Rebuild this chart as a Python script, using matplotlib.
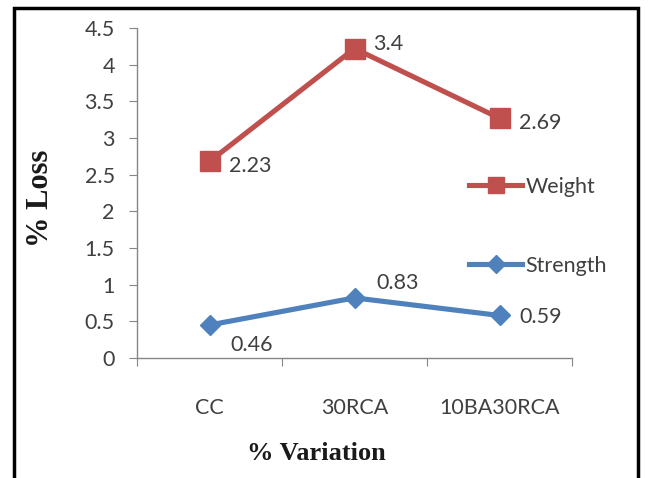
import matplotlib
matplotlib.use("Agg")
import matplotlib.pyplot as plt
from matplotlib.patches import Rectangle
from matplotlib.lines import Line2D

categories = ["CC", "30RCA", "10BA30RCA"]
weight_pos = [2.68, 4.22, 3.27]
weight_labels = ["2.23", "3.4", "2.69"]
strength_pos = [0.45, 0.82, 0.58]
strength_labels = ["0.46", "0.83", "0.59"]
yticks = [0, 0.5, 1, 1.5, 2, 2.5, 3, 3.5, 4, 4.5]
ytick_labels = ["0", "0.5", "1", "1.5", "2", "2.5", "3", "3.5", "4", "4.5"]

RED = "#C0504D"
BLUE = "#4F81BD"
TXT = "#404040"
SANS = ["Lato", "DejaVu Sans"]
SERIF = ["Liberation Serif", "DejaVu Serif"]
FS = 15.5

fig = plt.figure(figsize=(6.48, 4.78), dpi=100)
ax = fig.add_axes([137/648, 1-358/478, (572-137)/648, (358-28)/478])

x = [1, 2, 3]
ax.plot(x, weight_pos, color=RED, lw=3.7, marker="s", ms=14, mec=RED, mfc=RED, label="Weight", zorder=3)
ax.plot(x, strength_pos, color=BLUE, lw=3.7, marker="D", ms=10.5, mec=BLUE, mfc=BLUE, label="Strength", zorder=3)

ax.set_xlim(0.5, 3.5)
ax.set_ylim(0, 4.5)

# data labels
offs_w = [(19, -5), (19, 5), (20, -5)]
for xi, yi, lab, (dx, dy) in zip(x, weight_pos, weight_labels, offs_w):
    ax.annotate(lab, (xi, yi), xytext=(dx, dy), textcoords="offset pixels",
                ha="left", va="center", fontsize=FS, color=TXT, family=SANS)
offs_s = [(21, -20), (22, 15), (20, -2)]
for xi, yi, lab, (dx, dy) in zip(x, strength_pos, strength_labels, offs_s):
    ax.annotate(lab, (xi, yi), xytext=(dx, dy), textcoords="offset pixels",
                ha="left", va="center", fontsize=FS, color=TXT, family=SANS)

# axes styling
for s in ["top", "right"]:
    ax.spines[s].set_visible(False)
for s in ["left", "bottom"]:
    ax.spines[s].set_color("#868686")
    ax.spines[s].set_linewidth(1.0)

ax.set_yticks(yticks)
ax.set_yticklabels(ytick_labels, fontsize=FS, color=TXT, family=SANS)
ax.tick_params(axis="y", direction="out", length=6, color="#868686", pad=10)

ax.set_xticks([0.5, 1.5, 2.5, 3.5])
ax.set_xticklabels([])
ax.set_xticks(x, minor=True)
ax.set_xticklabels(categories, minor=True, fontsize=FS, color=TXT, family=SANS)
ax.tick_params(axis="x", which="major", direction="out", length=6, color="#868686")
ax.tick_params(axis="x", which="minor", length=0, pad=29)

fig.text(316/648, 1-453/478, "% Variation", ha="center", va="center",
         fontsize=19, fontweight="bold", family=SERIF, color="#1a1a1a")
fig.text(41/648, 1-198/478, "% Loss", ha="center", va="center", rotation=90,
         fontsize=22, fontweight="bold", family=SERIF, color="#1a1a1a")

# legend entries (manual placement)
h_w = Line2D([], [], color=RED, lw=3.7, marker="s", ms=12)
h_s = Line2D([], [], color=BLUE, lw=3.7, marker="D", ms=9)
leg = fig.legend([h_w, h_s], ["Weight", "Strength"], loc="upper left",
                 bbox_to_anchor=(460/648, 1-168/478), frameon=False,
                 prop={"family": SANS, "size": FS}, handlelength=2.5,
                 handletextpad=0.15, labelspacing=2.75, borderaxespad=0)
for t in leg.get_texts():
    t.set_color(TXT)

# outer frame
fig.patches.append(Rectangle((14/648, -0.05), (638-14)/648, 1.05 - 8/478,
                             transform=fig.transFigure, fill=False,
                             edgecolor="black", linewidth=2.5))

fig.savefig("out.png", dpi=100)
